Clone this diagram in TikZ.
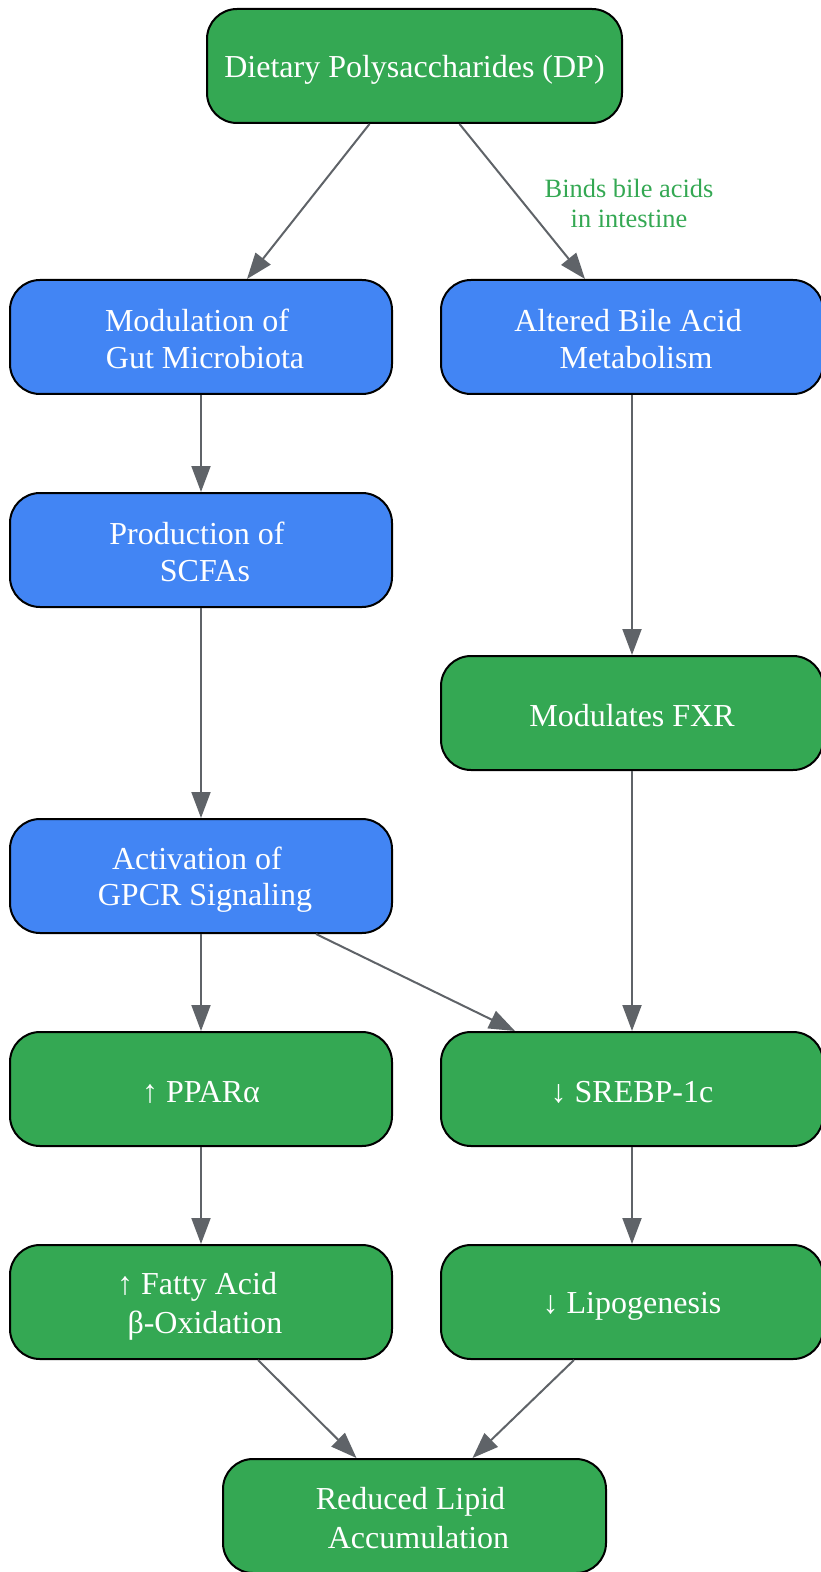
\documentclass[tikz,border=0pt]{standalone}
\usepackage{fontspec}
\setmainfont{Liberation Serif}
\usetikzlibrary{arrows.meta,calc}
\definecolor{gg}{HTML}{34A853}
\definecolor{gb}{HTML}{4285F4}
\definecolor{eg}{HTML}{5F6368}
\newcommand\sx{\rule[-2pt]{0pt}{17pt}}
\newcommand\lineA[1]{\sx #1\hspace*{4pt}}
\newcommand\lineB[1]{\sx\hspace*{4pt}#1}
\begin{document}
\begin{tikzpicture}[x=0.5pt,y=-0.5pt,
  box/.style={draw=black,line width=1pt,rounded corners=15pt,text=white,align=center,
    minimum width=191pt,minimum height=57pt,inner sep=4pt,
    font=\fontsize{16pt}{18.3pt}\selectfont},
  gbox/.style={box,fill=gg},
  bbox/.style={box,fill=gb},
  arr/.style={draw=eg,line width=1pt,-{Triangle[length=13pt,width=9.5pt]},fill=eg}]
\useasboundingbox (0,0) rectangle (820,1572);
\node[gbox,minimum width=207.5pt] (dp) at (414.5,66) {\sx Dietary Polysaccharides (DP)};
\node[bbox] (gut) at (201,337) {\lineA{Modulation of}\\\lineB{Gut Microbiota}};
\node[bbox] (bile) at (632,337) {\lineA{Altered Bile Acid}\\\lineB{Metabolism}};
\node[bbox] (scfa) at (201,550) {\lineA{Production of}\\\lineB{SCFAs}};
\node[gbox] (fxr) at (632,713) {\sx Modulates FXR};
\node[bbox] (gpcr) at (201,876) {\lineA{Activation of}\\\lineB{GPCR Signaling}};
\node[gbox] (ppar) at (201,1089) {\sx ↑ PPARα};
\node[gbox] (srebp) at (632,1089) {\sx ↓ SREBP-1c};
\node[gbox] (fao) at (201,1302) {\lineA{↑ Fatty Acid}\\\lineB{β-Oxidation}};
\node[gbox] (lipo) at (632,1302) {\sx ↓ Lipogenesis};
\node[gbox,minimum width=191.5pt] (red) at (414.5,1516) {\lineA{Reduced Lipid}\\\lineB{Accumulation}};
\node[text=gg,align=center,font=\fontsize{13.2pt}{15pt}\selectfont] (lbl) at (629,203) {Binds bile acids\\in intestine};
\draw[arr] ($(dp.south)+(-45,0)$) -- ($(gut.north)+(46,0)$);
\draw[arr] ($(dp.south)+(45,0)$) -- ($(bile.north)+(-47,0)$);
\draw[arr] (gut) -- (scfa);
\draw[arr] (scfa) -- (gpcr);
\draw[arr] (bile) -- (fxr);
\draw[arr] (fxr) -- (srebp);
\draw[arr] (gpcr) -- (ppar);
\draw[arr] ($(gpcr.south)+(115,0)$) -- ($(srebp.north)+(-117,0)$);
\draw[arr] (ppar) -- (fao);
\draw[arr] (srebp) -- (lipo);
\draw[arr] ($(fao.south)+(57,0)$) -- ($(red.north)+(-58,0)$);
\draw[arr] ($(lipo.south)+(-58,0)$) -- ($(red.north)+(58,0)$);
\end{tikzpicture}
\end{document}
